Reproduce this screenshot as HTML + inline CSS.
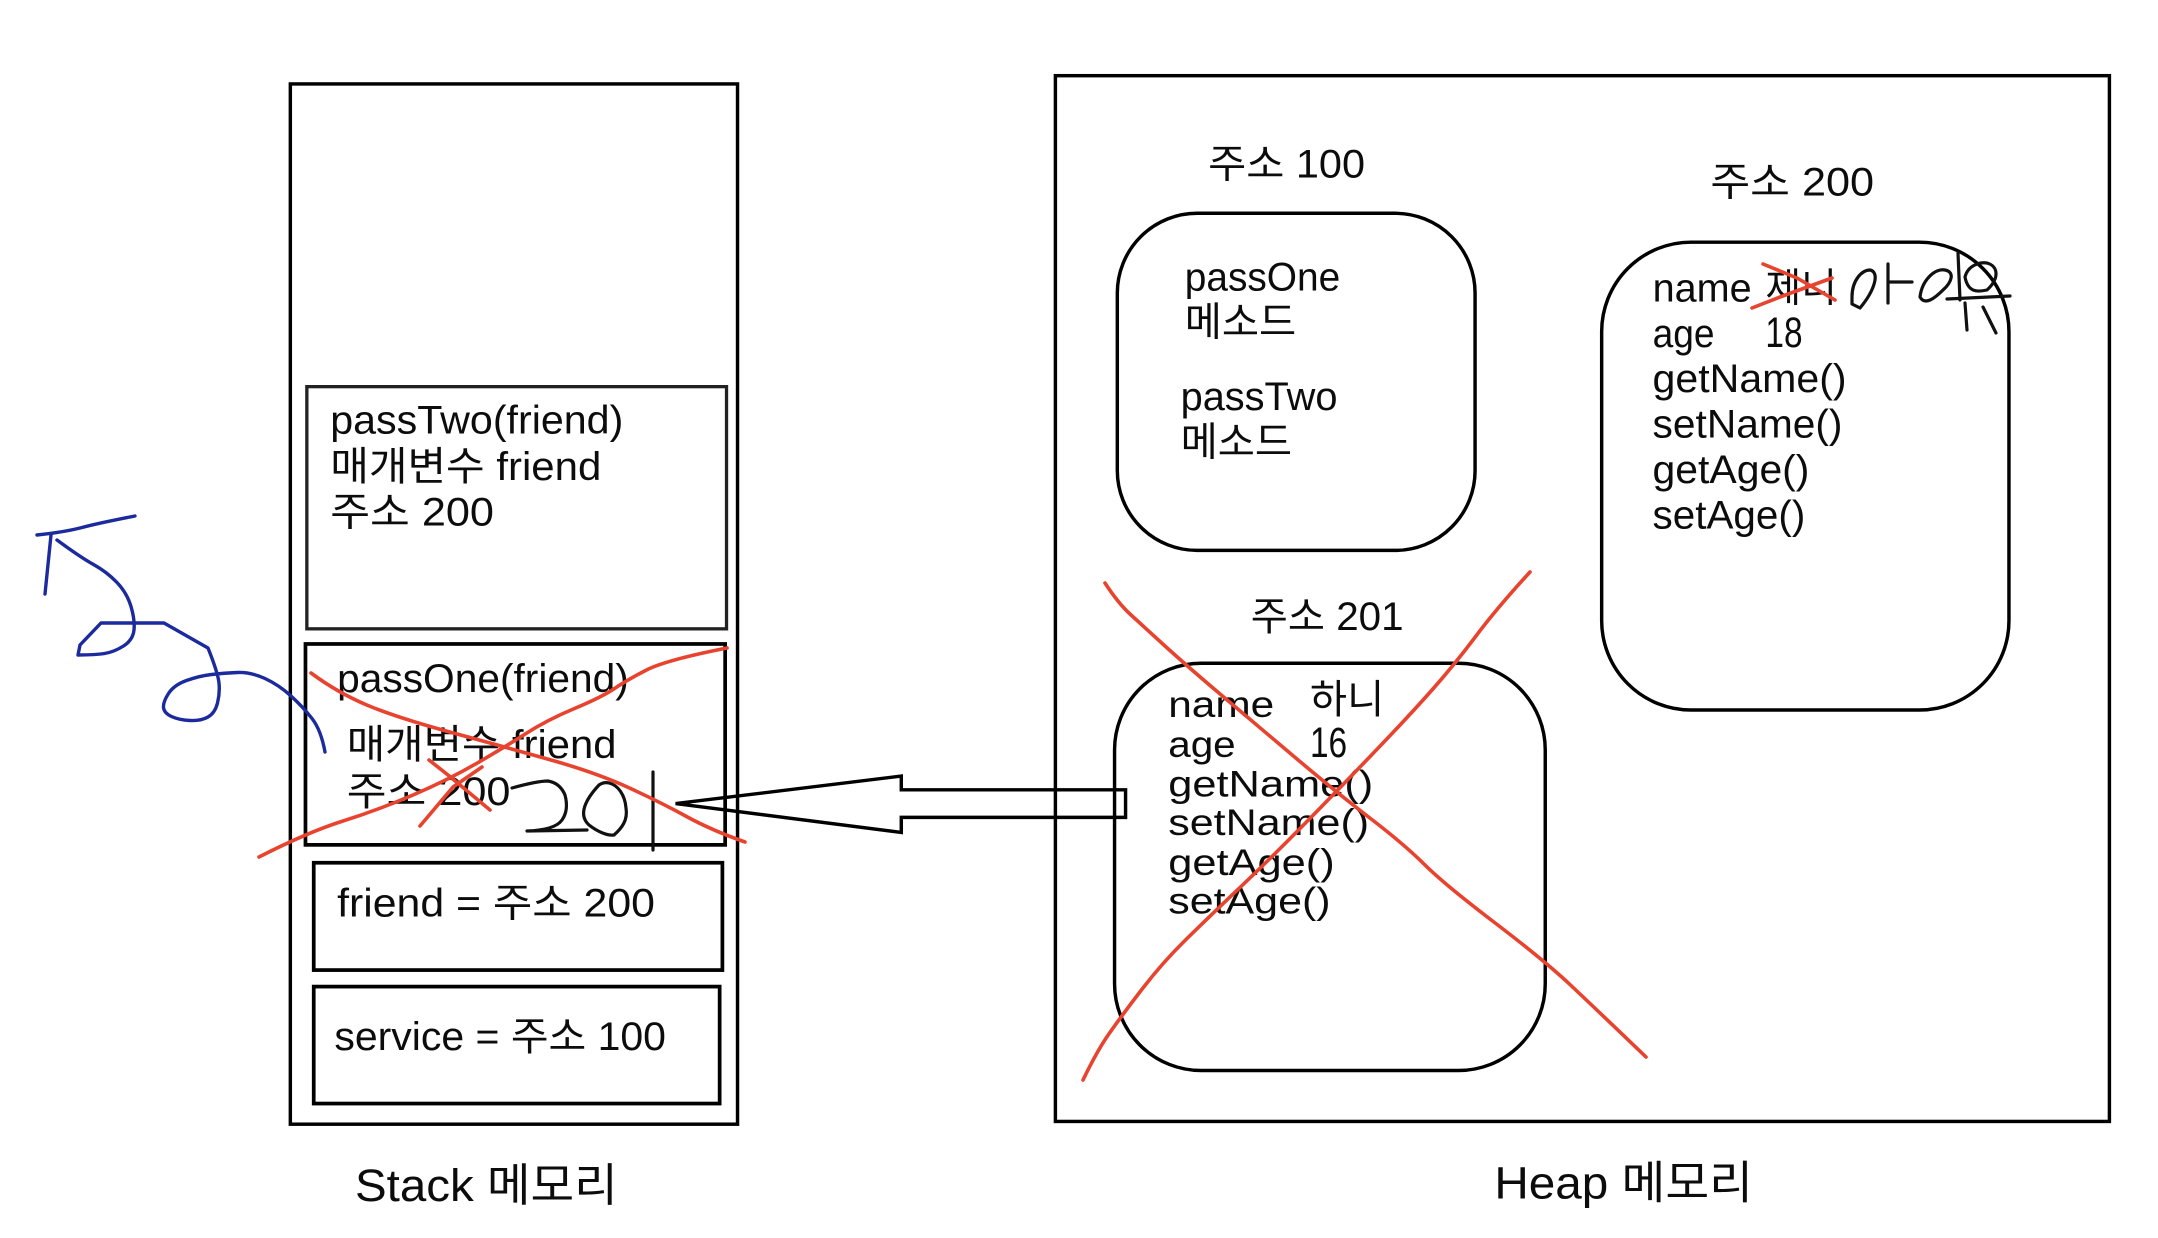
<!DOCTYPE html>
<html><head><meta charset="utf-8"><style>
html,body{margin:0;padding:0;background:#fff;width:2158px;height:1238px;overflow:hidden}
svg{display:block}
text{font-family:"Liberation Sans","Noto Sans CJK KR",sans-serif;fill:#0c0c0c;font-size:29px}
.s{font-size:27px}
.d{font-size:31px}
.b{fill:none;stroke:#000}
.k{fill:none;stroke:#111;stroke-width:3.2;stroke-linejoin:round;stroke-linecap:round}
.r{fill:none;stroke:#e8432e;stroke-width:3.6;stroke-linejoin:round;stroke-linecap:round}
.u{fill:none;stroke:#1b2a9c;stroke-width:3.4;stroke-linejoin:round;stroke-linecap:round}
</style></head><body>
<svg xmlns="http://www.w3.org/2000/svg" width="2158" height="1238" viewBox="0 0 2158 1238">
<rect width="2158" height="1238" fill="#fff"/>
<g transform="scale(1.376)">
<rect class="b" stroke-width="2.5" x="211" y="61" width="325" height="756"/>
<rect class="b" stroke-width="2.5" x="767" y="55" width="766" height="760"/>
<rect class="b" style="stroke:#222" stroke-width="2.4" x="223" y="281" width="305" height="176"/>
<rect class="b" stroke-width="2.7" x="222" y="468" width="305" height="146"/>
<rect class="b" stroke-width="2.7" x="228" y="627" width="297" height="78"/>
<rect class="b" stroke-width="2.7" x="228" y="717" width="295" height="85"/>
<rect class="b" stroke-width="2.5" x="812" y="155" width="260" height="245" rx="58" ry="58"/>
<rect class="b" stroke-width="2.5" x="1164" y="176" width="296" height="340" rx="65" ry="65"/>
<rect class="b" stroke-width="2.5" x="810" y="482" width="313" height="296" rx="63" ry="63"/>
<polygon class="b" stroke-width="2.5" fill="#fff" points="491,584 655,564 655,574 818,574 818,594 655,594 655,605"/>

<text x="240" y="315" textLength="213" lengthAdjust="spacingAndGlyphs">passTwo(friend)</text>
<text x="240" y="349" textLength="197" lengthAdjust="spacingAndGlyphs">매개변수 friend</text>
<text x="240" y="382" textLength="119" lengthAdjust="spacingAndGlyphs">주소 200</text>
<text x="245" y="503" textLength="212" lengthAdjust="spacingAndGlyphs">passOne(friend)</text>
<text x="252" y="551" textLength="196" lengthAdjust="spacingAndGlyphs">매개변수 friend</text>
<text x="252" y="585" textLength="119" lengthAdjust="spacingAndGlyphs">주소 200</text>
<text x="245" y="666" textLength="231" lengthAdjust="spacingAndGlyphs">friend = 주소 200</text>
<text x="243" y="763" textLength="241" lengthAdjust="spacingAndGlyphs">service = 주소 100</text>
<text x="258" y="873" style="font-size:33px" textLength="191" lengthAdjust="spacingAndGlyphs">Stack 메모리</text>
<text x="1086" y="871" style="font-size:33px" textLength="188" lengthAdjust="spacingAndGlyphs">Heap 메모리</text>
<text x="878" y="129" textLength="114" lengthAdjust="spacingAndGlyphs">주소 100</text>
<text x="1243" y="142" textLength="119" lengthAdjust="spacingAndGlyphs">주소 200</text>
<text x="909" y="458" textLength="111" lengthAdjust="spacingAndGlyphs">주소 201</text>
<text x="861" y="211" textLength="113" lengthAdjust="spacingAndGlyphs">passOne</text>
<text x="861" y="244" textLength="81" lengthAdjust="spacingAndGlyphs">메소드</text>
<text x="858" y="298" textLength="114" lengthAdjust="spacingAndGlyphs">passTwo</text>
<text x="858" y="331" textLength="81" lengthAdjust="spacingAndGlyphs">메소드</text>

<text x="1201" y="219" textLength="72" lengthAdjust="spacingAndGlyphs">name</text>
<text x="1283" y="219" textLength="52" lengthAdjust="spacingAndGlyphs">제니</text>
<text x="1201" y="252" textLength="45" lengthAdjust="spacingAndGlyphs">age</text>
<text class="d" x="1283" y="252" textLength="27" lengthAdjust="spacingAndGlyphs">18</text>
<text x="1201" y="285" textLength="141" lengthAdjust="spacingAndGlyphs">getName()</text>
<text x="1201" y="318" textLength="138" lengthAdjust="spacingAndGlyphs">setName()</text>
<text x="1201" y="351" textLength="114" lengthAdjust="spacingAndGlyphs">getAge()</text>
<text x="1201" y="384" textLength="111" lengthAdjust="spacingAndGlyphs">setAge()</text>

<text class="s" x="849" y="521" textLength="77" lengthAdjust="spacingAndGlyphs">name</text>
<text x="952" y="518" textLength="54" lengthAdjust="spacingAndGlyphs">하니</text>
<text class="s" x="849" y="550" textLength="49" lengthAdjust="spacingAndGlyphs">age</text>
<text class="d" x="952" y="550" textLength="27" lengthAdjust="spacingAndGlyphs">16</text>
<text class="s" x="849" y="579" textLength="149" lengthAdjust="spacingAndGlyphs">getName()</text>
<text class="s" x="849" y="607" textLength="146" lengthAdjust="spacingAndGlyphs">setName()</text>
<text class="s" x="849" y="636" textLength="121" lengthAdjust="spacingAndGlyphs">getAge()</text>
<text class="s" x="849" y="664" textLength="118" lengthAdjust="spacingAndGlyphs">setAge()</text>
</g>

<!-- hand strokes, real pixel coords -->
<path class="u" d="M37,535 Q65,532 82,527.5 Q99,523 135,516"/>
<path class="u" d="M51,535 L45,594"/>
<path class="u" d="M57,540 Q80,557 93.5,564.5 Q107,572 117,582.5 Q127,593 131,606.5 Q135,620 134,630 Q133,640 123.5,646 Q114,652 104.5,653.5 Q95,655 78,655 L80,645 L101,623 L164,623 L208,648 Q218,673 219,683 Q220,693 217.5,703 Q215,713 208,717 Q201,721 190,720.5 Q179,720 171.5,716.5 Q164,713 163.5,707.5 Q163,702 168.5,693.5 Q174,685 186.5,680.5 Q199,676 211.5,674.5 Q224,673 237.5,672.5 Q251,672 265,678.5 Q279,685 291,696 Q303,707 312,718.5 Q321,730 325,752"/>

<path class="k" d="M512,788 Q537,781 548,781 Q560,783 565,795 Q569,810 562,820 Q555,830 527,831 L587,830"/>
<path class="k" d="M599,785 C585,800 578,815 589,825 C598,832 608,836 614,835 C622,828 628,820 626,808 C625,795 618,785 609,783 C605,782 602,783 599,785 Z"/>
<path class="k" d="M653,772 L653,850"/>

<path class="r" d="M311,673 Q338,693 368,705.5 Q398,718 451.5,732.5 Q505,747 551,760 Q597,773 629.5,788 Q662,803 686.5,816.5 Q711,830 745,842"/>
<path class="r" d="M727,648 Q666,660 646.5,670 Q627,680 614.5,688.5 Q602,697 574.5,708.5 Q547,720 526,733.5 Q505,747 476.5,763.5 Q448,780 413,795 Q378,810 343,821 Q308,832 259,857"/>
<path class="r" d="M429,760 L448,775 L490,810"/>
<path class="r" d="M482,767 L453,787 L420,826"/>

<path class="r" d="M1763,264 L1797,278 L1835,300"/>
<path class="r" d="M1752,308 L1780,297 L1832,278"/>
<path class="k" d="M1852,297 C1852,280 1862,270 1870,270 C1880,272 1875,290 1860,308 L1852,304 Z"/>
<path class="k" d="M1888,264 L1888,303 M1888,282 L1912,282"/>
<path class="k" d="M1920,297 C1922,280 1935,268 1945,270 C1955,272 1952,282 1943,290 C1935,298 1925,306 1920,297 Z"/>
<path class="k" d="M1958,253 L1960,300"/>
<path class="k" d="M1965,277 C1968,265 1980,262 1987,263 C1998,266 2000,278 1987,290 C1978,292 1968,293 1965,277 Z"/>
<path class="k" d="M1947,299 L2010,296 M1965,303 L1967,330 M1983,307 L1996,333"/>

<g transform="translate(-4,0)">
<path class="r" d="M1109,583 Q1122,603 1134.5,614.5 Q1147,626 1169,646 Q1191,666 1223.5,693.5 Q1256,721 1298,756.5 Q1340,792 1374.5,818.5 Q1409,845 1428.5,864.5 Q1448,884 1498.5,922.5 Q1549,961 1575,985.5 Q1601,1010 1650,1057"/>
<path class="r" d="M1534,572 Q1501,608 1480,636 Q1459,664 1436,690 Q1413,716 1376.5,754 Q1340,792 1307.5,825 Q1275,858 1244.5,887 Q1214,916 1190,939.5 Q1166,963 1145,990.5 Q1124,1018 1112.5,1034.5 Q1101,1051 1087,1080"/>
</g>
</svg>
</body></html>
